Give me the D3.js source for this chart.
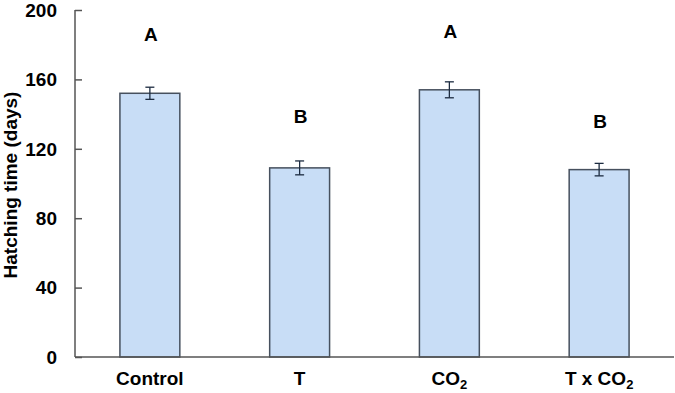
<!DOCTYPE html>
<html lang="en">
<head>
	<meta charset="UTF-8">
	<title>Hatching time</title>
	<style>
		body { margin: 0; background: #fff; }
		text { font-family: Arial, "Liberation Sans", sans-serif; font-weight: bold; fill: #000; }
	</style>
	<script src="https://cdn.jsdelivr.net/npm/d3@7"></script>
</head>
<body>
	<script type="text/javascript">
		// data
		const categories = ["Control", "T", "CO2", "T x CO2"]
		const means = [152, 109, 154, 108]
		const errors = [3.5, 4, 4.6, 3.6]
		const letters = ["A", "B", "A", "B"]
		const letterAt = [182, 135, 184, 132] // letter baseline, in days
		const yTicks = [0, 40, 80, 120, 160, 200]

		const width = 675
		const height = 393
		const margin = { left: 75, right: 1, top: 10, bottom: 36 }

		const svg = d3.select("body").append("svg")
			.attr("width", width)
			.attr("height", height)

		const x = d3.scaleBand()
			.domain(categories)
			.range([margin.left, width - margin.right])
			.paddingInner(0.6)
			.paddingOuter(0.3)

		const y = d3.scaleLinear()
			.domain([0, 200])
			.range([height - margin.bottom, margin.top])

		const axisColor = "#555"

//y axis with inward ticks
		const yAxis = svg.append("g")
			.attr("transform", "translate(" + margin.left + ",0)")
			.call(d3.axisRight(y).tickValues(yTicks).tickSize(7).tickFormat(""))
		yAxis.select(".domain").remove()
		yAxis.selectAll("line").attr("stroke", axisColor).attr("stroke-width", 1.5)

		svg.append("line")
			.attr("x1", margin.left).attr("x2", margin.left)
			.attr("y1", y(200)).attr("y2", y(0))
			.attr("stroke", axisColor).attr("stroke-width", 1.5)

		svg.selectAll(".ylabel")
			.data(yTicks)
			.join("text")
			.attr("class", "ylabel")
			.attr("x", 57)
			.attr("y", d => y(d))
			.attr("dy", "0.36em")
			.attr("text-anchor", "end")
			.style("font-size", "19px")
			.text(d => d)

		svg.append("text")
			.attr("transform", "translate(17,185) rotate(-90)")
			.attr("text-anchor", "middle")
			.style("font-size", "19px")
			.text("Hatching time (days)")

//bars
		svg.selectAll(".bar")
			.data(categories)
			.join("rect")
			.attr("class", "bar")
			.attr("x", d => x(d))
			.attr("width", x.bandwidth())
			.attr("y", (d, i) => y(means[i]))
			.attr("height", (d, i) => y(0) - y(means[i]))
			.attr("fill", "#c8ddf6")
			.attr("stroke", "#46505e")
			.attr("stroke-width", 1.5)

//x axis line
		svg.append("line")
			.attr("x1", margin.left).attr("x2", width - margin.right)
			.attr("y1", y(0)).attr("y2", y(0))
			.attr("stroke", axisColor).attr("stroke-width", 1.5)

//error bars
		const eb = svg.selectAll(".err")
			.data(categories)
			.join("g")
			.attr("class", "err")
			.attr("stroke", "#1c2b40")
			.attr("stroke-width", 1.3)
		eb.append("line")
			.attr("x1", d => x(d) + x.bandwidth() / 2)
			.attr("x2", d => x(d) + x.bandwidth() / 2)
			.attr("y1", (d, i) => y(means[i] + errors[i]))
			.attr("y2", (d, i) => y(means[i] - errors[i]))
		eb.append("line")
			.attr("x1", d => x(d) + x.bandwidth() / 2 - 4.5)
			.attr("x2", d => x(d) + x.bandwidth() / 2 + 4.5)
			.attr("y1", (d, i) => y(means[i] + errors[i]))
			.attr("y2", (d, i) => y(means[i] + errors[i]))
		eb.append("line")
			.attr("x1", d => x(d) + x.bandwidth() / 2 - 4.5)
			.attr("x2", d => x(d) + x.bandwidth() / 2 + 4.5)
			.attr("y1", (d, i) => y(means[i] - errors[i]))
			.attr("y2", (d, i) => y(means[i] - errors[i]))

//significance letters
		svg.selectAll(".letter")
			.data(categories)
			.join("text")
			.attr("class", "letter")
			.attr("x", d => x(d) + x.bandwidth() / 2 + 1)
			.attr("y", (d, i) => y(letterAt[i]))
			.attr("text-anchor", "middle")
			.style("font-size", "19px")
			.text((d, i) => letters[i])

//category labels, CO2 with subscript
		const xl = svg.selectAll(".xlabel")
			.data(categories)
			.join("text")
			.attr("class", "xlabel")
			.attr("x", d => x(d) + x.bandwidth() / 2)
			.attr("y", 385)
			.attr("text-anchor", "middle")
			.style("font-size", "19px")
		xl.each(function(d) {
			const t = d3.select(this)
			if (d.endsWith("CO2")) {
				t.append("tspan").text(d.slice(0, -1))
				t.append("tspan").attr("dy", 4).style("font-size", "13px").text("2")
			} else {
				t.text(d)
			}
		})
	</script>
</body>
</html>
